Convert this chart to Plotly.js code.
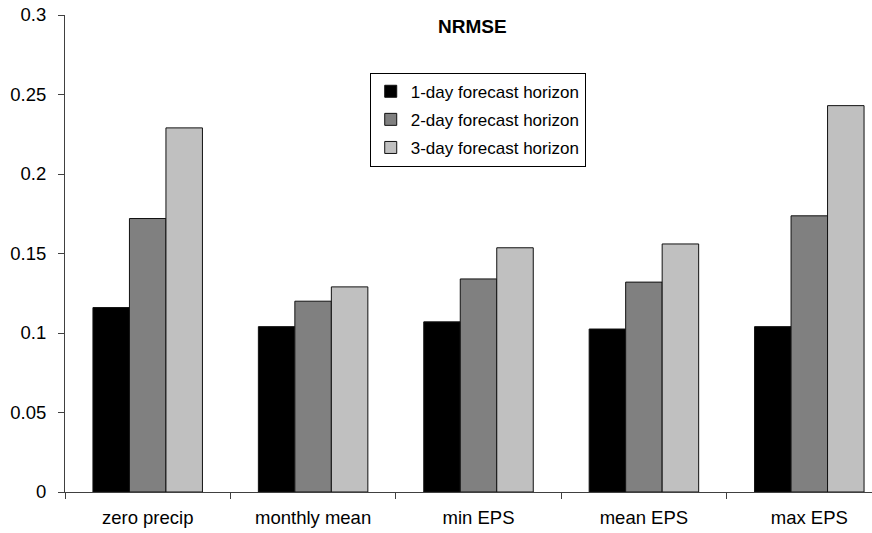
<!DOCTYPE html>
<html>
<head>
<meta charset="utf-8">
<script src="https://cdn.plot.ly/plotly-3.0.1.min.js"></script>
<style>html,body{margin:0;padding:0;overflow:hidden;background:#fff;}#chart{width:872px;height:533px;}</style>
</head>
<body>
<div id="chart"></div>
<script>
var categories = ["zero precip", "monthly mean", "min EPS", "mean EPS", "max EPS"];
var seriesNames = ["1-day forecast horizon", "2-day forecast horizon", "3-day forecast horizon"];
var day1 = [0.116, 0.104, 0.107, 0.1025, 0.104];
var day2 = [0.172, 0.120, 0.134, 0.132, 0.1737];
var day3 = [0.229, 0.129, 0.1536, 0.156, 0.243];
var yTicks = [0, 0.05, 0.1, 0.15, 0.2, 0.25, 0.3];

var colors = ["#000000", "#808080", "#c0c0c0"];
var values = [day1, day2, day3];
var traces = values.map(function (v, i) {
  return {
    type: "bar",
    x: categories,
    y: v,
    name: seriesNames[i],
    legendgroup: "g" + i,
    marker: {color: colors[i], line: {color: "#111111", width: 1}},
    hoverinfo: "x+y"
  };
});

var layout = {
  width: 872,
  height: 533,
  margin: {l: 65, r: 0, t: 15, b: 41},
  paper_bgcolor: "#ffffff",
  plot_bgcolor: "#ffffff",
  font: {family: "Liberation Sans, Arial, sans-serif", color: "#000000"},
  barmode: "group",
  bargap: 0.338,
  bargroupgap: 0,
  showlegend: true,
  legend: {
    x: 0.3776, y: 0.879, xanchor: "left", yanchor: "top",
    bordercolor: "#000000", borderwidth: 1,
    bgcolor: "#ffffff",
    font: {size: 17, family: "Liberation Sans, Arial, sans-serif"},
    traceorder: "grouped",
    tracegroupgap: 3
  },
  annotations: [{
    text: "<b>NRMSE</b>",
    xref: "paper", yref: "paper",
    x: (473 - 65) / 807, y: (492.3 - 26) / 477.6,
    xanchor: "center", yanchor: "middle",
    showarrow: false,
    font: {size: 19, family: "Liberation Sans, Arial, sans-serif"}
  }],
  xaxis: {
    type: "category",
    range: [-0.5, 4.379],
    showline: true, linecolor: "#404040", linewidth: 1,
    ticks: "outside", tickson: "boundaries", ticklen: 6, tickcolor: "#404040",
    showgrid: false, zeroline: false,
    tickfont: {size: 18.5},
    ticklabelstandoff: 9
  },
  yaxis: {
    range: [0, 0.3],
    tickvals: yTicks,
    showline: true, linecolor: "#404040", linewidth: 1,
    ticks: "outside", ticklen: 6, tickcolor: "#404040",
    showgrid: false, zeroline: false,
    tickfont: {size: 18.5},
    ticklabelstandoff: 8
  }
};

Plotly.newPlot("chart", traces, layout, {displayModeBar: false, staticPlot: true});
</script>
</body>
</html>
